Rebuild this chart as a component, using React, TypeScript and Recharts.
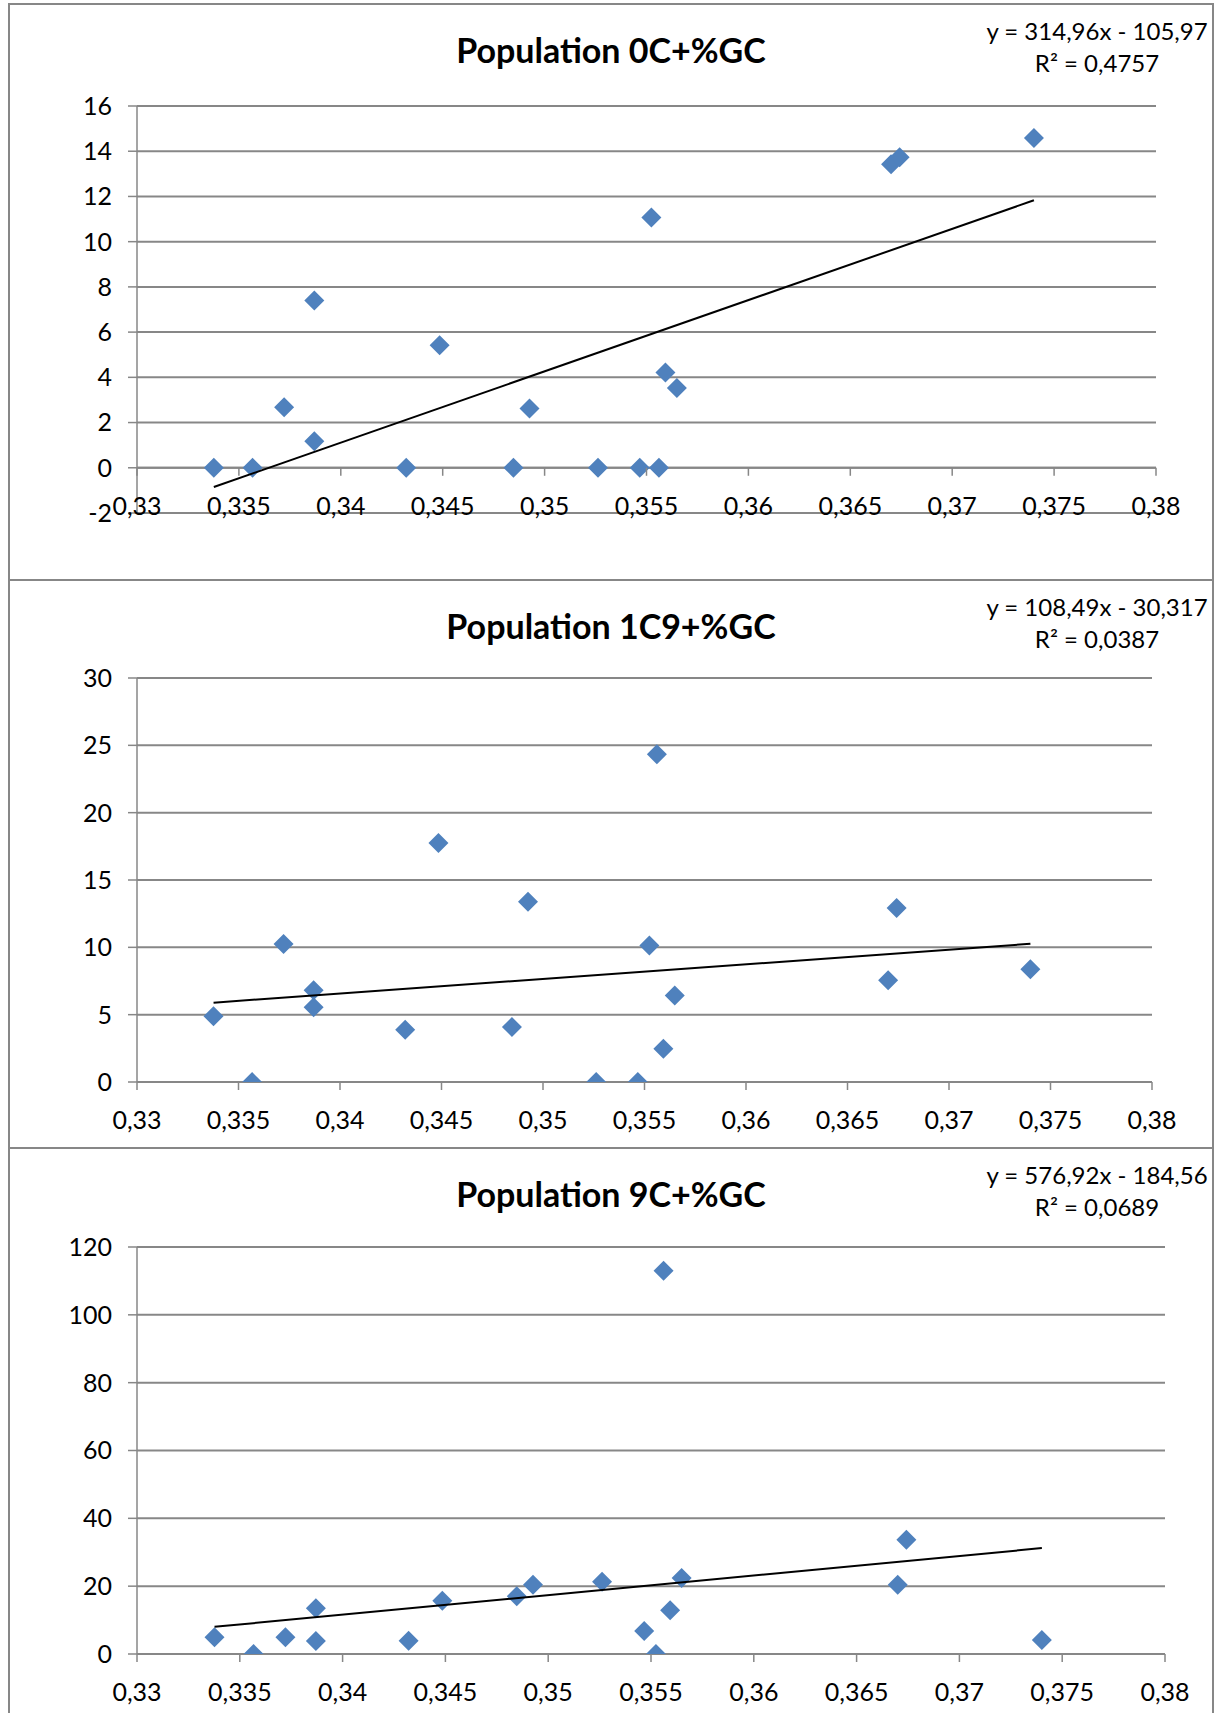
import React from 'react'
import {
  ScatterChart,
  Scatter,
  XAxis,
  YAxis,
  CartesianGrid,
  ReferenceLine,
} from 'recharts'

// %GC of each strain (shared x values of the three plots)
const gcContent = [
  0.33377, 0.33567, 0.33722, 0.3387, 0.3387, 0.34321, 0.34485, 0.34847, 0.34926,
  0.35262, 0.35467, 0.35524, 0.35561, 0.35593, 0.35649, 0.367, 0.36742, 0.37401,
]

const pop0C = [0, 0, 2.68, 7.4, 1.17, 0, 5.42, 0, 2.62, 0, 0, 11.07, 0, 4.21, 3.53, 13.42, 13.73, 14.58]
const pop1C9 = [4.88, 0, 10.25, 6.81, 5.55, 3.88, 17.74, 4.08, 13.38, 0, 0, 10.13, 24.33, 2.46, 6.42, 7.56, 12.93, 8.37]
const pop9C = [4.95, 0, 4.95, 13.5, 3.86, 3.9, 15.7, 17.0, 20.4, 21.3, 6.8, 0, 113.0, 12.9, 22.4, 20.4, 33.7, 4.1]

// trend line end points (x, y)
const trend0C = [{ x: 0.33377, y: -0.85 }, { x: 0.37401, y: 11.83 }]
const trend1C9 = [{ x: 0.33377, y: 5.89 }, { x: 0.37401, y: 10.26 }]
const trend9C = [{ x: 0.33377, y: 8.0 }, { x: 0.37401, y: 31.22 }]

const xTicks = [0.33, 0.335, 0.34, 0.345, 0.35, 0.355, 0.36, 0.365, 0.37, 0.375, 0.38]
const yTicks0C = [-2, 0, 2, 4, 6, 8, 10, 12, 14, 16]
const yTicks1C9 = [0, 5, 10, 15, 20, 25, 30]
const yTicks9C = [0, 20, 40, 60, 80, 100, 120]

const titles = ['Population 0C+%GC', 'Population 1C9+%GC', 'Population 9C+%GC']
const equations = ['y = 314,96x - 105,97', 'y = 108,49x - 30,317', 'y = 576,92x - 184,56']
const rSquared = ['R² = 0,4757', 'R² = 0,0387', 'R² = 0,0689']

const FONT = 'Lato, "Open Sans", sans-serif'
const GRAY = '#878787'
const BLUE = '#4F81BD'
const W = 1214
const TICK_FS = 25

const fmt = (v: number) => String(v).replace('.', ',')

const Diamond = (props: any) => {
  const { cx, cy } = props
  if (cx == null || cy == null) return <g />
  const r = 10
  return (
    <polygon
      points={`${cx},${cy - r} ${cx + r},${cy} ${cx},${cy + r} ${cx - r},${cy}`}
      fill={BLUE}
    />
  )
}

const XTick = (props: any) => {
  const { x, y, payload, shift } = props
  const y0 = y + shift
  return (
    <g>
      <line x1={x} x2={x} y1={y0} y2={y0 + 8} stroke={GRAY} strokeWidth={1.5} />
      <text
        x={x}
        y={y0 + 37}
        textAnchor="middle"
        dominantBaseline="central"
        fontFamily={FONT}
        fontSize={TICK_FS}
        fill="#000"
      >
        {fmt(payload.value)}
      </text>
    </g>
  )
}

type PanelProps = {
  index: number
  values: number[]
  trend: { x: number; y: number }[]
  yTicks: number[]
  top: number
  height: number
  plotTop: number
  plotBottom: number
  plotRight: number
}

const Panel = ({ index, values, trend, yTicks, top, height, plotTop, plotBottom, plotRight }: PanelProps) => {
  const points = gcContent.map((x, i) => ({ x, y: values[i] }))
  const yMin = yTicks[0]
  const yMax = yTicks[yTicks.length - 1]
  const plotH = plotBottom - plotTop
  // x axis crosses at y = 0
  const shift = (-plotH * (0 - yMin)) / (yMax - yMin)
  const xAxisH = 40

  return (
    <div
      style={{
        position: 'absolute',
        left: 8,
        top,
        width: W - 8,
        height,
        boxSizing: 'border-box',
        borderTop: `2px solid ${GRAY}`,
        borderLeft: `2px solid ${GRAY}`,
        borderRight: `2px solid ${GRAY}`,
      }}
    >
      <div style={{ position: 'absolute', left: -10, top: -2 }}>
        <ScatterChart
          width={W}
          height={height}
          margin={{
            top: plotTop - top,
            right: W - plotRight,
            bottom: top + height - plotBottom - xAxisH,
            left: 0,
          }}
        >
          <CartesianGrid horizontal vertical={false} stroke={GRAY} strokeWidth={2} />
          <XAxis
            type="number"
            dataKey="x"
            domain={[0.33, 0.38]}
            ticks={xTicks}
            interval={0}
            allowDataOverflow
            axisLine={false}
            tickLine={false}
            tickSize={0}
            tickMargin={0}
            height={xAxisH}
            tick={(p: any) => <XTick {...p} shift={shift} />}
          />
          <YAxis
            type="number"
            dataKey="y"
            domain={[yMin, yMax]}
            ticks={yTicks}
            interval={0}
            allowDataOverflow
            width={137}
            axisLine={{ stroke: GRAY, strokeWidth: 1.5 }}
            tickLine={{ stroke: GRAY, strokeWidth: 1.5 }}
            tickSize={9}
            tickMargin={16}
            tick={{ fill: '#000', fontSize: TICK_FS, fontFamily: FONT }}
          />
          <ReferenceLine y={0} stroke={GRAY} strokeWidth={2} />
          <Scatter data={points} shape={Diamond} isAnimationActive={false} />
          <Scatter
            data={trend}
            line={{ stroke: '#000', strokeWidth: 2 }}
            shape={() => <g />}
            isAnimationActive={false}
          />
        </ScatterChart>
      </div>
      <div
        style={{
          position: 'absolute',
          left: 0,
          top: 25,
          width: W - 12,
          textAlign: 'center',
          fontFamily: FONT,
          fontWeight: 700,
          fontSize: 34,
          lineHeight: '40px',
          color: '#000',
        }}
      >
        {titles[index]}
      </div>
      <div
        style={{
          position: 'absolute',
          left: 937,
          top: 10,
          width: 300,
          textAlign: 'center',
          fontFamily: FONT,
          fontSize: 24,
          lineHeight: '32px',
          color: '#000',
        }}
      >
        <div>{equations[index]}</div>
        <div>{rSquared[index]}</div>
      </div>
    </div>
  )
}

export default function App() {
  return (
    <div style={{ position: 'absolute', left: 0, top: 0, width: W, height: 1713, background: '#fff', overflow: 'hidden' }}>
      <Panel index={0} values={pop0C} trend={trend0C} yTicks={yTicks0C} top={3} height={576} plotTop={106} plotBottom={513} plotRight={1156} />
      <Panel index={1} values={pop1C9} trend={trend1C9} yTicks={yTicks1C9} top={579} height={568} plotTop={678} plotBottom={1082} plotRight={1152} />
      <Panel index={2} values={pop9C} trend={trend9C} yTicks={yTicks9C} top={1147} height={566} plotTop={1247} plotBottom={1654} plotRight={1165} />
    </div>
  )
}
